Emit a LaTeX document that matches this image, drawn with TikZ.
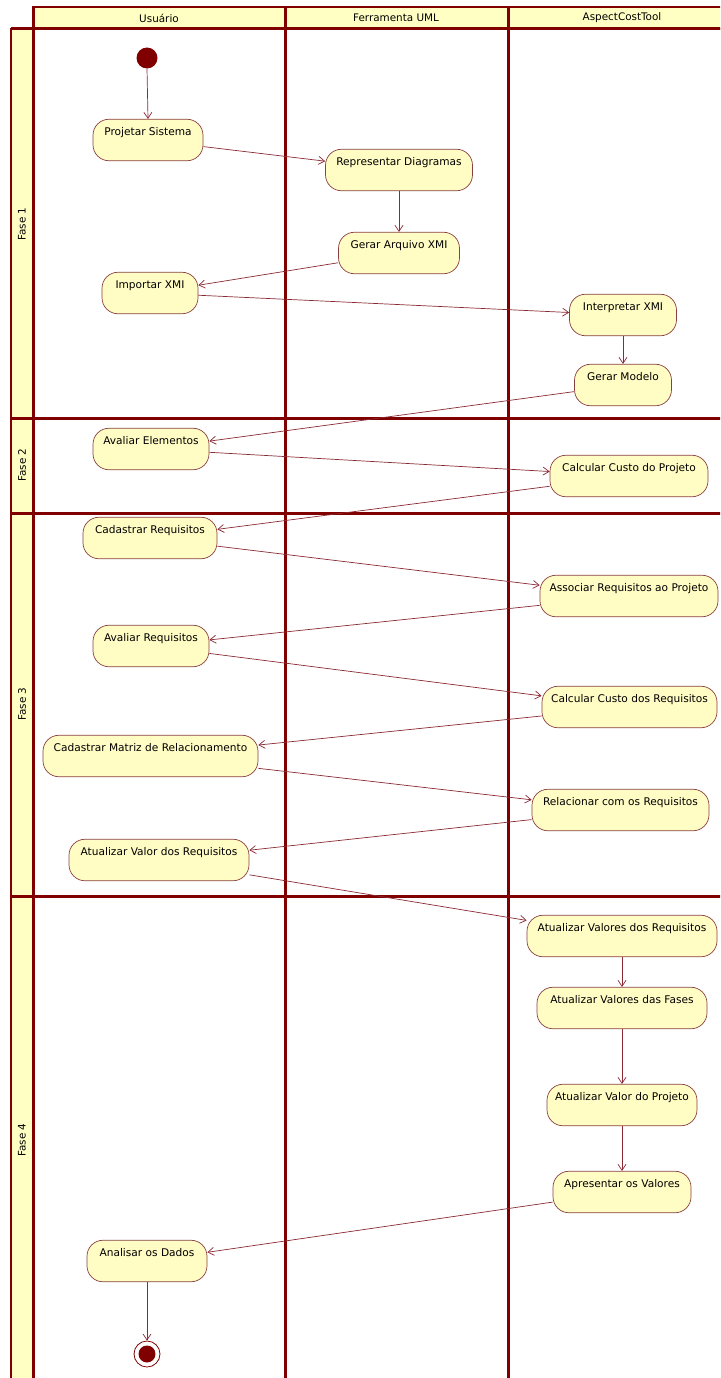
\documentclass[tikz,border=0pt]{standalone}
\usepackage{fontspec}
\setmainfont{DejaVu Sans}
\usetikzlibrary{arrows.meta}
\definecolor{lane}{HTML}{800000}
\definecolor{laneyel}{HTML}{FFFFC4}
\definecolor{actfill}{HTML}{FFFCC4}
\definecolor{actline}{HTML}{8A4040}
\definecolor{flow}{HTML}{8A2A35}
\tikzset{
  lanerule/.style={draw=lane, line width=3pt},
  thinrule/.style={draw=lane, line width=1.1pt},
  act/.style={draw=actline, fill=actfill, line width=0.7pt, rounded corners=16pt,
    inner xsep=0pt, inner ysep=4pt, text height=12pt, text depth=21.5pt,
    font=\fontsize{10.6}{12}\selectfont, align=center},
  flowline/.style={draw=flow, line width=0.7pt, -{Straight Barb[length=6pt,width=8pt]}},
  lanelabel/.style={font=\fontsize{10.4}{12}\selectfont, inner sep=0pt},
}
\begin{document}
\begin{tikzpicture}[x=1pt, y=-1pt]
\useasboundingbox (0,0) rectangle (720,1378);
\clip (0,0) rectangle (720,1378);
\fill[white] (0,0) rectangle (720,1378);

% swimlane header and phase strip
\filldraw[fill=laneyel, thinrule] (33,7) rectangle (760,29);
\filldraw[fill=laneyel, thinrule] (11,29) rectangle (33,1400);
\node[lanelabel] (hUsr) at (159,18) {Usuário};
\node[lanelabel] (hUml) at (396,18) {Ferramenta UML};
\node[lanelabel] (hAct) at (622,18) {AspectCostTool};
\node[lanelabel, rotate=90] (f1) at (22,224) {Fase 1};
\node[lanelabel, rotate=90] (f2) at (22,465) {Fase 2};
\node[lanelabel, rotate=90] (f3) at (22,704) {Fase 3};
\node[lanelabel, rotate=90] (f4) at (22,1140) {Fase 4};

% lane and phase rules
\foreach \lx in {33,285,508} \draw[lanerule] (\lx,7) -- (\lx,1400);
\foreach \ly in {29,418,513,896} \draw[lanerule] (11,\ly) -- (760,\ly);

% activities
\fill[lane] (147,58) circle (10.5pt);
\coordinate (start) at (147,58);
\node[act, minimum width=110pt] (proj)   at (148,140)  {Projetar Sistema};
\node[act, minimum width=147pt] (repr)   at (399,170)  {Representar Diagramas};
\node[act, minimum width=121pt] (gerxmi) at (399,253)  {Gerar Arquivo XMI};
\node[act, minimum width=96pt]  (impxmi) at (150,293)  {Importar XMI};
\node[act, minimum width=107pt] (intxmi) at (623,315)  {Interpretar XMI};
\node[act, minimum width=97pt]  (germod) at (623,385)  {Gerar Modelo};
\node[act, minimum width=116pt] (avel)   at (151,449)  {Avaliar Elementos};
\node[act, minimum width=158pt] (ccp)    at (629,476)  {Calcular Custo do Projeto};
\node[act, minimum width=134pt] (cadreq) at (150,538)  {Cadastrar Requisitos};
\node[act, minimum width=178pt] (assoc)  at (629,596)  {Associar Requisitos ao Projeto};
\node[act, minimum width=116pt] (avreq)  at (151,646)  {Avaliar Requisitos};
\node[act, minimum width=175pt] (ccr)    at (629.5,707){Calcular Custo dos Requisitos};
\node[act, minimum width=215pt] (cadmat) at (150.5,756){Cadastrar Matriz de Relacionamento};
\node[act, minimum width=177pt] (rel)    at (620.5,810){Relacionar com os Requisitos};
\node[act, minimum width=180pt] (atvr)   at (159,860)  {Atualizar Valor dos Requisitos};
\node[act, minimum width=190pt] (atvsr)  at (622,936)  {Atualizar Valores dos Requisitos};
\node[act, minimum width=170pt] (atvf)   at (622,1008) {Atualizar Valores das Fases};
\node[act, minimum width=150pt] (atvp)   at (622,1105) {Atualizar Valor do Projeto};
\node[act, minimum width=138pt] (apr)    at (622,1192) {Apresentar os Valores};
\node[act, minimum width=120pt] (anl)    at (147,1261) {Analisar os Dados};
\node[circle, draw=lane, fill=white, line width=0.8pt, minimum size=26pt, inner sep=0pt] (fim) at (147,1354) {};
\fill[lane] (fim.center) circle (8.5pt);

% control flow
\draw[flowline] (start) ++(0,10.5) -- (proj.north);
\draw[flowline] (proj) -- (repr);
\draw[flowline] (repr) -- (gerxmi);
\draw[flowline] (gerxmi) -- (impxmi);
\draw[flowline] (impxmi) -- (intxmi);
\draw[flowline] (intxmi) -- (germod);
\draw[flowline] (germod) -- (avel);
\draw[flowline] (avel) -- (ccp);
\draw[flowline] (ccp) -- (cadreq);
\draw[flowline] (cadreq) -- (assoc);
\draw[flowline] (assoc) -- (avreq);
\draw[flowline] (avreq) -- (ccr);
\draw[flowline] (ccr) -- (cadmat);
\draw[flowline] (cadmat) -- (rel);
\draw[flowline] (rel) -- (atvr);
\draw[flowline] (atvr) -- (atvsr);
\draw[flowline] (atvsr) -- (atvf);
\draw[flowline] (atvf) -- (atvp);
\draw[flowline] (atvp) -- (apr);
\draw[flowline] (apr) -- (anl);
\draw[flowline] (anl) -- (fim);
\end{tikzpicture}
\end{document}
